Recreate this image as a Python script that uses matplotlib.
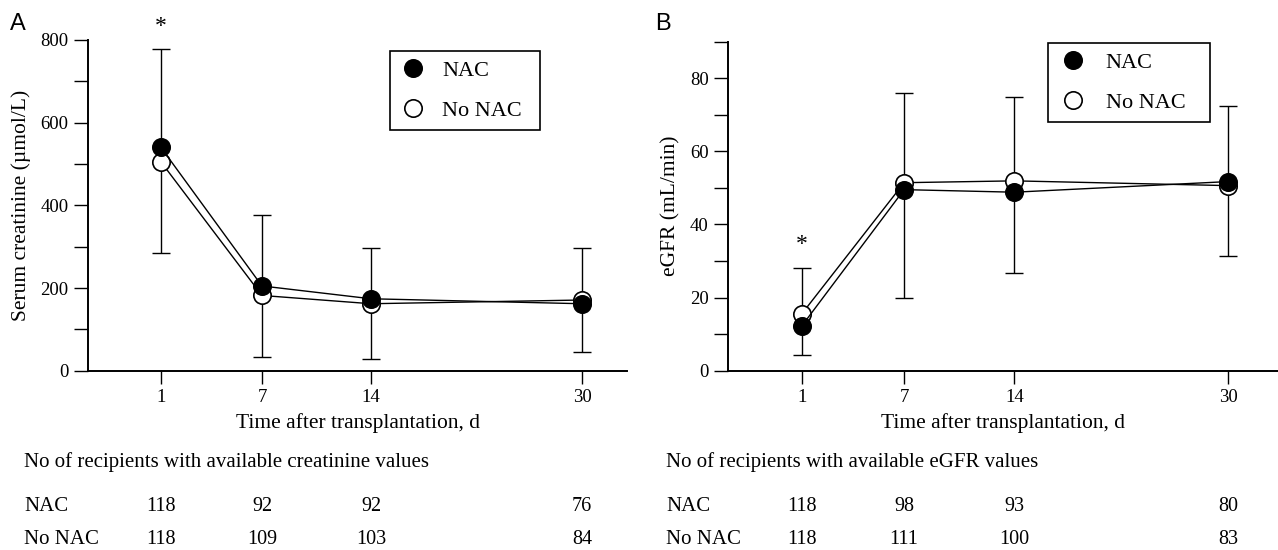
import matplotlib
matplotlib.use('Agg')
import matplotlib.pyplot as plt
from matplotlib.lines import Line2D
from matplotlib.transforms import blended_transform_factory
import numpy as np

# ---------------- data ----------------
days = ['1', '7', '14', '30']

creat_nac = [540, 205, 174, 162]
creat_nonac = [505, 182, 162, 171]
creat_err_high = [778, 377, 296, 296]
creat_err_low = [285, 34, 29, 45]

egfr_nac = [12.3, 49.5, 48.8, 51.7]
egfr_nonac = [15.6, 51.4, 51.9, 50.6]
egfr_err_high = [28.0, 75.9, 74.7, 72.3]
egfr_err_low = [4.4, 19.9, 26.6, 31.4]

n_creat_nac = [118, 92, 92, 76]
n_creat_nonac = [118, 109, 103, 84]
n_egfr_nac = [118, 98, 93, 80]
n_egfr_nonac = [118, 111, 100, 83]

group_labels = ['NAC', 'No NAC']

# ---------------- layout ----------------
x_pos = [0, 1, 2.08, 4.17]   # uneven spacing of the day categories

plt.rcParams['font.family'] = ['Liberation Serif', 'DejaVu Serif']

W, H = 1278, 550
fig = plt.figure(figsize=(W / 100, H / 100), dpi=100)


def fr(x0, x1, ytop, ybot):
    return [x0 / W, 1 - ybot / H, (x1 - x0) / W, (ybot - ytop) / H]


axA = fig.add_axes(fr(88, 627, 40, 370.7))
axB = fig.add_axes(fr(728, 1278, 41.5, 370.7))

MS = 12.5
LEGFS = 16


def panel(ax, nac, nonac, hi, lo, ymax, ystep, ylabel_step, ylabel, xlim,
          leg_box, leg_hl, leg_tp, star_y, n_nac, n_nonac, table_title,
          text_x):
    lo = np.array(lo, dtype=float)
    hi = np.array(hi, dtype=float)
    ax.errorbar(x_pos, lo, yerr=[np.zeros(len(lo)), hi - lo], fmt='none',
                ecolor='black', elinewidth=1.0, capsize=6.5, capthick=1.0,
                zorder=1)
    ax.plot(x_pos, nonac, '-', color='black', lw=1.0, marker='o', ms=MS,
            mfc='white', mec='black', mew=1.2, zorder=3)
    ax.plot(x_pos, nac, '-', color='black', lw=1.0, marker='o', ms=MS,
            mfc='black', mec='black', mew=1.2, zorder=4)

    ax.set_xlim(*xlim)
    ax.set_ylim(0, ymax)
    ax.set_xticks(x_pos, days)
    yt = np.arange(0, ymax + 0.001, ystep)
    ylabs = []
    for v in yt:
        iv = int(round(v))
        ylabs.append(str(iv) if iv % ylabel_step == 0 else '')
    ax.set_yticks(yt, ylabs)
    for s in ['top', 'right']:
        ax.spines[s].set_visible(False)
    for s in ['left', 'bottom']:
        ax.spines[s].set_linewidth(1.4)
    ax.tick_params(axis='y', direction='out', length=10, width=1.0,
                   labelsize=13.5, pad=4)
    ax.tick_params(axis='x', direction='out', length=9, width=1.0,
                   labelsize=13.5, pad=4)
    ax.set_ylabel(ylabel, fontsize=15.5, labelpad=7)
    ax.set_xlabel('Time after transplantation, d', fontsize=15.5, labelpad=5)

    handles = [Line2D([], [], ls='none', marker='o', ms=MS, mfc='black',
                      mec='black', mew=1.2),
               Line2D([], [], ls='none', marker='o', ms=MS, mfc='white',
                      mec='black', mew=1.2)]
    x0, y0, x1, y1 = leg_box
    leg = ax.legend(handles, group_labels, loc='upper left', mode='expand',
                    bbox_to_anchor=(x0 / W, 1 - y1 / H, (x1 - x0) / W,
                                    (y1 - y0) / H),
                    bbox_transform=fig.transFigure, borderaxespad=0,
                    frameon=True, fancybox=False, framealpha=1,
                    edgecolor='black', fontsize=LEGFS, borderpad=0.42,
                    labelspacing=0.88, handlelength=leg_hl,
                    handletextpad=leg_tp)
    leg.get_frame().set_linewidth(1.2)

    ax.text(x_pos[0], star_y, '*', ha='center', va='baseline', fontsize=17,
            clip_on=False)

    # numbers table below the panel
    tr = blended_transform_factory(ax.transData, fig.transFigure)
    fig.text(text_x / W, 1 - 467 / H, table_title, fontsize=15,
             va='baseline', ha='left')
    for lab, vals, yb in [(group_labels[0], n_nac, 511),
                          (group_labels[1], n_nonac, 544)]:
        fig.text(text_x / W, 1 - yb / H, lab, fontsize=15, va='baseline',
                 ha='left')
        for xp, v in zip(x_pos, vals):
            ax.text(xp, 1 - yb / H, str(v), transform=tr, fontsize=14.5,
                    va='baseline', ha='center')


panel(axA, creat_nac, creat_nonac, creat_err_high, creat_err_low,
      800, 100, 200, 'Serum creatinine (µmol/L)', (-0.723, 4.616),
      (390, 51, 540, 128), 1.27, 0.67, 819, n_creat_nac, n_creat_nonac,
      'No of recipients with available creatinine values', 24)
panel(axB, egfr_nac, egfr_nonac, egfr_err_high, egfr_err_low,
      90, 10, 20, 'eGFR (mL/min)', (-0.724, 4.66),
      (1048, 43, 1210, 120), 1.45, 0.72, 33.0, n_egfr_nac, n_egfr_nonac,
      'No of recipients with available eGFR values', 666)

fig.text(10 / W, 1 - 30 / H, 'A', fontsize=17, family='Liberation Sans',
         va='baseline', ha='left')
fig.text(655 / W, 1 - 30 / H, 'B', fontsize=17, family='Liberation Sans',
         va='baseline', ha='left')

fig.savefig('out.png', dpi=100)
